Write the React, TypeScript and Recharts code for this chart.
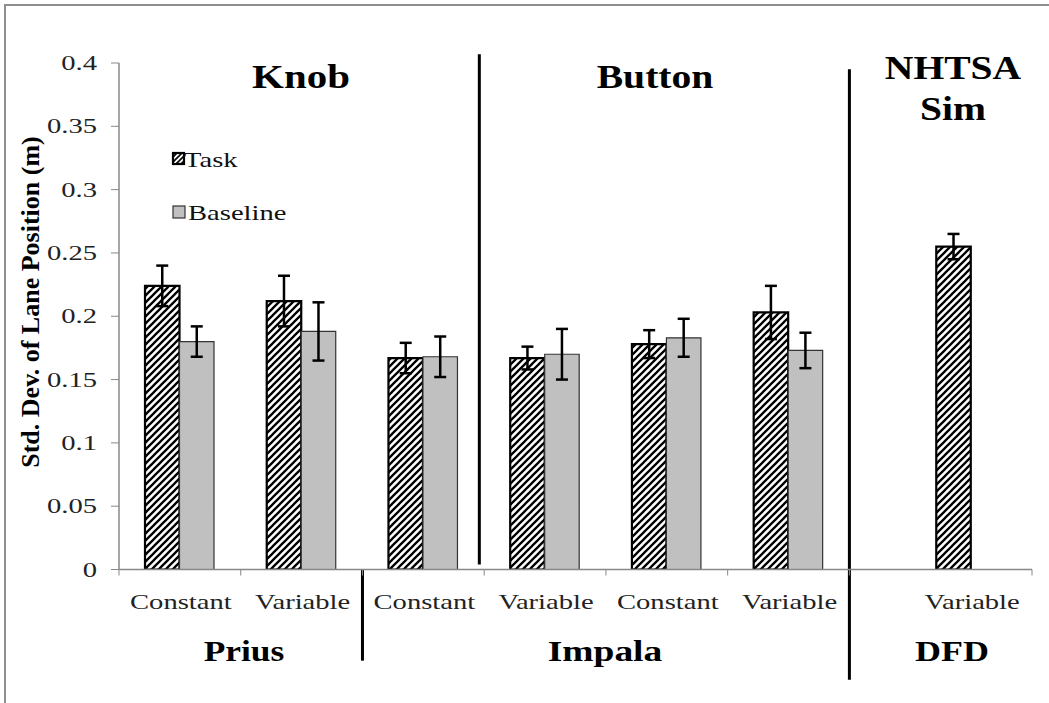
import { BarChart, Bar, XAxis, YAxis, ErrorBar, ReferenceLine, Legend } from "recharts";

// lane position std dev, task vs baseline
const categories = ["Constant", "Variable", "Constant", "Variable", "Constant", "Variable", "Variable"];
const vehicles = ["Prius", "Prius", "Impala", "Impala", "Impala", "Impala", "DFD"];
const taskValues = [0.224, 0.212, 0.167, 0.167, 0.178, 0.203, 0.255];
const taskErrors = [0.016, 0.02, 0.012, 0.009, 0.011, 0.021, 0.01];
const baselineValues = [0.18, 0.188, 0.168, 0.17, 0.183, 0.173, null];
const baselineErrors = [0.012, 0.023, 0.016, 0.02, 0.015, 0.014, null];
const yTicks = [0, 0.05, 0.1, 0.15, 0.2, 0.25, 0.3, 0.35, 0.4];

const FONT = '"Liberation Serif", "Times New Roman", serif';
const STRETCH = 1.3;
const xDomain = [-0.5, 7];

// DFD sits after an extra half-slot gap, like the original layout
const data = categories.map((c, i) => ({
  pos: i + (vehicles[i] === "DFD" ? 0.5 : 0),
  label: c,
  task: taskValues[i],
  taskErr: taskErrors[i],
  baseline: baselineValues[i],
  baselineErr: baselineErrors[i],
}));

const boundaryTicks = [xDomain[0], ...data.slice(1).map((d) => Math.floor(d.pos) - 0.5), xDomain[1]];
const labelTicks = data.map((d) => d.pos);

const YTick = ({ x, y, payload }: any) => (
  <text
    transform={`translate(${x - 12},${y + 7}) scale(${STRETCH},1)`}
    textAnchor="end"
    fontFamily={FONT}
    fontSize={22}
    fill="#222"
  >
    {payload.value}
  </text>
);

const CatTick = ({ x, y, payload }: any) => {
  const d = data.find((r) => r.pos === payload.value);
  return (
    <text
      transform={`translate(${x + 1},${y + 29}) scale(${STRETCH},1)`}
      textAnchor="middle"
      fontFamily={FONT}
      fontSize={22}
      fill="#222"
    >
      {d ? d.label : ""}
    </text>
  );
};

const LegendBox = () => (
  <svg width={160} height={90}>
    <defs>
      <pattern id="hatchLegend" patternUnits="userSpaceOnUse" width={5} height={5}>
        <rect width={5} height={5} fill="#fff" />
        <path d="M0,5 L5,0 M-1,1 L1,-1 M4,6 L6,4" stroke="#000" strokeWidth={1.6} />
      </pattern>
    </defs>
    <rect x={8} y={8} width={11} height={11} fill="url(#hatchLegend)" stroke="#000" strokeWidth={2.2} />
    <text transform={`translate(19,22) scale(${STRETCH},1)`} fontFamily={FONT} fontSize={22} fill="#111">
      Task
    </text>
    <rect x={8} y={61} width={12} height={12} fill="#c0c0c0" stroke="#333" strokeWidth={1.2} />
    <text transform={`translate(23,75) scale(${STRETCH},1)`} fontFamily={FONT} fontSize={22} fill="#111">
      Baseline
    </text>
  </svg>
);

const Title = ({ x, y, size, stretch, children }: any) => (
  <text
    transform={`translate(${x},${y}) scale(${stretch},1)`}
    textAnchor="middle"
    fontFamily={FONT}
    fontWeight="bold"
    fontSize={size}
    fill="#000"
  >
    {children}
  </text>
);

export default function App() {
  return (
    <div style={{ position: "absolute", left: 0, top: 0, width: 1049, height: 703, overflow: "hidden", background: "#fff" }}>
      <div
        style={{
          position: "absolute",
          left: 4,
          top: 4,
          width: 1100,
          height: 760,
          border: "2px solid #8f8f8f",
        }}
      />
      <div style={{ position: "absolute", left: 0, top: 0 }}>
        <BarChart
          width={1049}
          height={703}
          data={data}
          margin={{ top: 63, right: 17, left: 59, bottom: 85.5 }}
          barSize={34.5}
          barGap={0}
        >
          <defs>
            <pattern id="hatch" patternUnits="userSpaceOnUse" width={7} height={7}>
              <rect width={7} height={7} fill="#fff" />
              <path d="M0,7 L7,0 M-1,1 L1,-1 M6,8 L8,6" stroke="#000" strokeWidth={2.3} />
            </pattern>
          </defs>
          <XAxis
            xAxisId="cat"
            type="number"
            dataKey="pos"
            domain={xDomain}
            ticks={boundaryTicks}
            interval={0}
            allowDataOverflow
            tick={() => <g />}
            tickSize={6}
            tickLine={{ stroke: "#888" }}
            axisLine={{ stroke: "#888", strokeWidth: 1.5 }}
            height={8}
          />
          <XAxis
            xAxisId="lab"
            type="number"
            dataKey="pos"
            domain={xDomain}
            ticks={labelTicks}
            interval={0}
            allowDataOverflow
            tick={<CatTick />}
            tickSize={0}
            tickLine={false}
            axisLine={false}
            height={40}
          />
          <YAxis
            domain={[0, 0.4]}
            ticks={yTicks}
            interval={0}
            allowDataOverflow
            width={60}
            tickSize={8}
            tick={<YTick />}
            tickLine={{ stroke: "#888" }}
            axisLine={{ stroke: "#888", strokeWidth: 1.5 }}
          />
          <Legend
            layout="vertical"
            align="center"
            verticalAlign="middle"
            wrapperStyle={{ left: 165, top: 145, width: 160, height: 90 }}
            content={() => <LegendBox />}
          />
          <Bar xAxisId="cat" dataKey="task" name="Task" fill="url(#hatch)" stroke="#000" strokeWidth={2.2} isAnimationActive={false}>
            <ErrorBar dataKey="taskErr" direction="y" width={6} stroke="#000" strokeWidth={2.5} />
          </Bar>
          <Bar xAxisId="cat" dataKey="baseline" name="Baseline" fill="#c0c0c0" stroke="#333" strokeWidth={1.2} isAnimationActive={false}>
            <ErrorBar dataKey="baselineErr" direction="y" width={6} stroke="#000" strokeWidth={2.5} />
          </Bar>
          <ReferenceLine
            xAxisId="cat"
            ifOverflow="visible"
            segment={[{ x: 2.46, y: 0.407 }, { x: 2.46, y: 0.004 }]}
            stroke="#000"
            strokeWidth={3}
          />
          <ReferenceLine
            xAxisId="cat"
            ifOverflow="visible"
            segment={[{ x: 5.5, y: 0.395 }, { x: 5.5, y: -0.087 }]}
            stroke="#000"
            strokeWidth={3}
          />
          <ReferenceLine
            xAxisId="cat"
            ifOverflow="visible"
            segment={[{ x: 1.5, y: 0 }, { x: 1.5, y: -0.072 }]}
            stroke="#000"
            strokeWidth={3}
          />
        </BarChart>
      </div>
      <svg width={1049} height={703} style={{ position: "absolute", left: 0, top: 0, pointerEvents: "none" }}>
        <Title x={301} y={88} size={33} stretch={1.24}>Knob</Title>
        <Title x={655} y={88} size={33} stretch={1.2}>Button</Title>
        <Title x={953} y={79} size={33} stretch={1.2}>NHTSA</Title>
        <Title x={953} y={120} size={33} stretch={1.2}>Sim</Title>
        <Title x={244} y={661} size={30} stretch={1.18}>Prius</Title>
        <Title x={605} y={661} size={30} stretch={1.25}>Impala</Title>
        <Title x={952} y={661} size={30} stretch={1.2}>DFD</Title>
        <text
          transform="translate(39,302) rotate(-90)"
          textAnchor="middle"
          fontFamily={FONT}
          fontWeight="bold"
          fontSize={26}
          fill="#000"
        >
          Std. Dev. of Lane Position (m)
        </text>
      </svg>
    </div>
  );
}
